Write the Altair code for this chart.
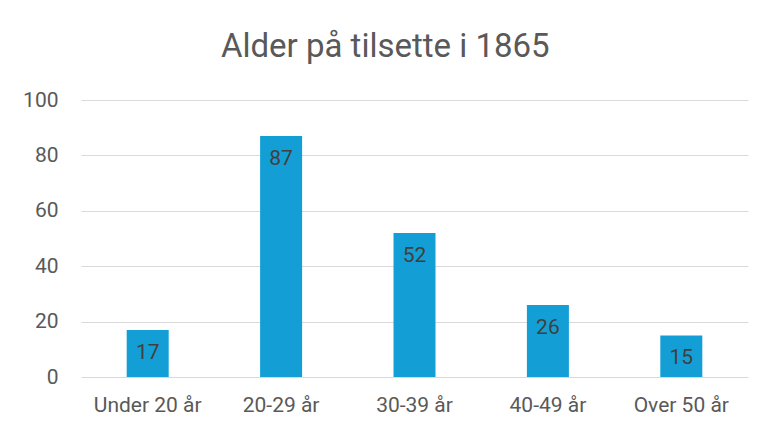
import altair as alt
import pandas as pd

categories = ["Under 20 år", "20-29 år", "30-39 år", "40-49 år", "Over 50 år"]
values = [17, 87, 52, 26, 15]
y_ticks = [0, 20, 40, 60, 80, 100]
title_text = "Alder på tilsette i 1865"

df = pd.DataFrame({"kategori": categories, "antal": values})

FONT = "Roboto, Liberation Sans, sans-serif"
BAR = "#139FD6"

base = alt.Chart(df).encode(
    x=alt.X("kategori:N", sort=categories, title=None,
            scale=alt.Scale(paddingInner=0, paddingOuter=0),
            axis=alt.Axis(labelAngle=0, labelFont=FONT, labelFontSize=21,
                          labelColor="#595959", labelPadding=17, ticks=False,
                          domain=False, grid=False)),
    y=alt.Y("antal:Q", title=None,
            scale=alt.Scale(domain=[0, 100]),
            axis=alt.Axis(values=y_ticks, labelFont=FONT, labelFontSize=21,
                          labelColor="#595959", labelPadding=23, ticks=False,
                          domain=False, gridColor="#D9D9D9", gridWidth=1.2)),
)

bars = base.mark_bar(color=BAR, size=42)
labels = base.mark_text(baseline="middle", dy=23, font=FONT,
                        fontSize=21, color="#404040").encode(text="antal:Q")

chart = alt.layer(bars, labels).properties(
    width=667, height=277,
    title=alt.Title(title_text, font=FONT, fontSize=33, fontWeight="normal",
                    color="#595959", anchor="middle", frame="bounds", offset=25),
    autosize=alt.AutoSizeParams(type="none"),
    padding={"left": 73, "top": 92, "right": 6, "bottom": 47},
).configure_view(stroke=None)

chart.save("out.html", embed_options={"renderer": "svg", "actions": False})
